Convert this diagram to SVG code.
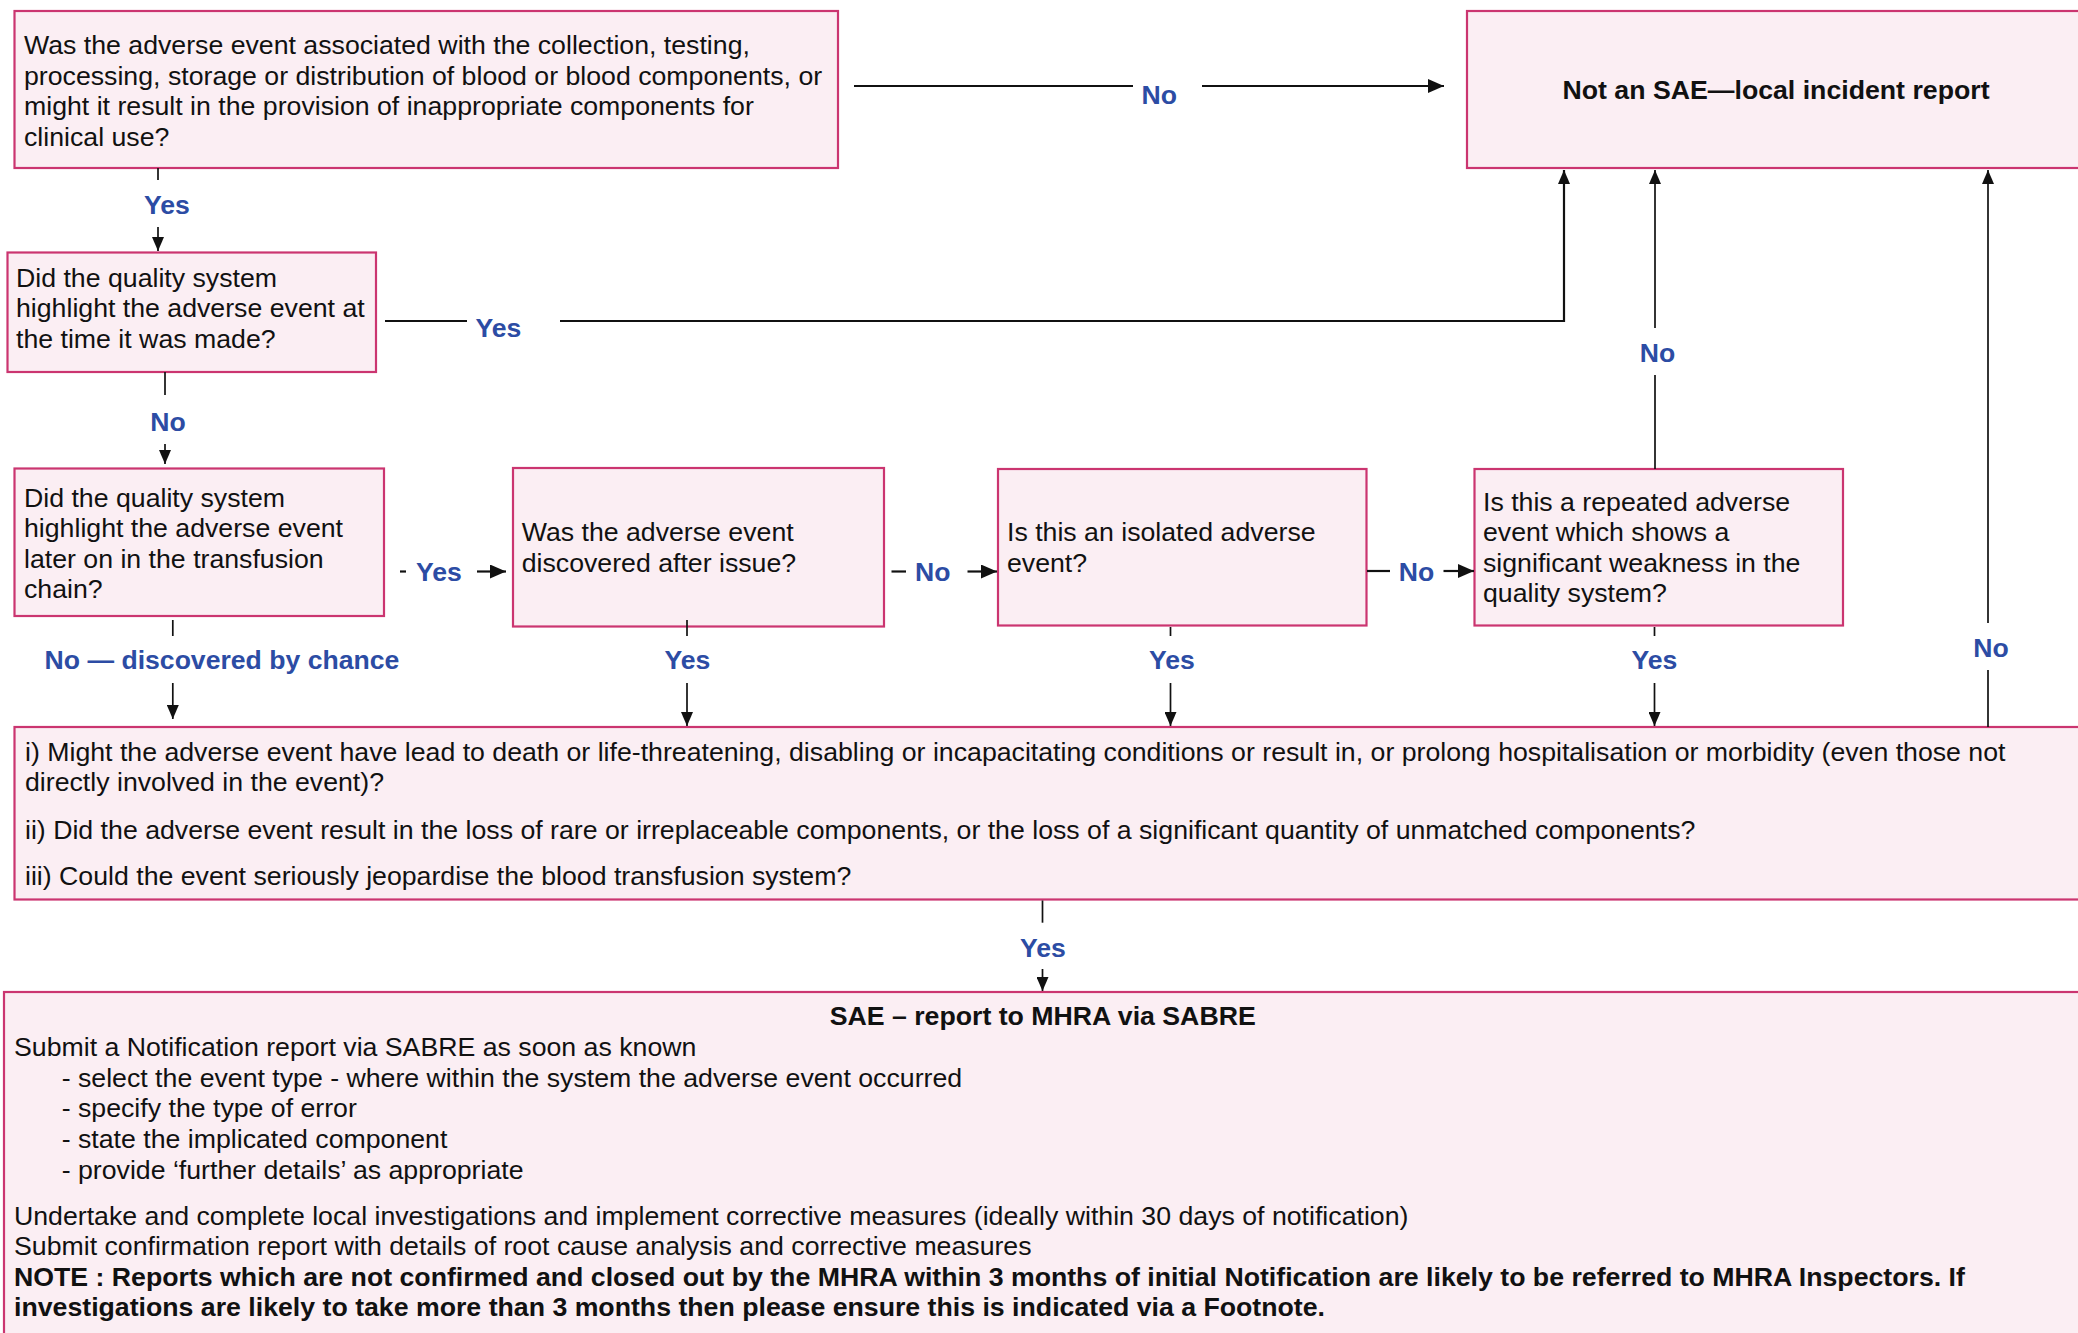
<svg xmlns="http://www.w3.org/2000/svg" width="2078" height="1333" viewBox="0 0 2078 1333">
<defs>
<style>
.box{fill:#FBEEF3;stroke:#CB3570;stroke-width:2.2}
.t{font-family:"Liberation Sans",Arial,Helvetica,sans-serif;font-size:26.7px;fill:#111}
.b{font-weight:bold}
.lbl{font-family:"Liberation Sans",Arial,Helvetica,sans-serif;font-size:26.6px;font-weight:bold;fill:#2C4CA4}
.ln{fill:none;stroke:#111;stroke-width:1.7}
.lh{fill:none;stroke:#111;stroke-width:2.2}
</style>
<marker id="ah" markerWidth="16" markerHeight="14" refX="16" refY="7" orient="auto" markerUnits="userSpaceOnUse">
<path d="M0,0 L16,7 L0,14 z" fill="#111"/>
</marker>
<marker id="ahs" markerWidth="14" markerHeight="12" refX="14" refY="6" orient="auto" markerUnits="userSpaceOnUse">
<path d="M0,0 L14,6 L0,12 z" fill="#111"/>
</marker>
</defs>
<rect width="2078" height="1333" fill="#fff"/>

<g id="q1">
<rect class="box" x="14.5" y="11" width="823.5" height="157"/>
<text class="t" x="24" y="54">Was the adverse event associated with the collection, testing,</text>
<text class="t" x="24" y="84.5">processing, storage or distribution of blood or blood components, or</text>
<text class="t" x="24" y="115">might it result in the provision of inappropriate components for</text>
<text class="t" x="24" y="145.5">clinical use?</text>
</g>

<g id="notsae">
<rect class="box" x="1467" y="11" width="700" height="157"/>
<text class="t b" x="1776" y="98.5" text-anchor="middle">Not an SAE—local incident report</text>
</g>

<g id="q2">
<rect class="box" x="7.5" y="252.5" width="368.5" height="119.5"/>
<text class="t" x="16" y="286.5">Did the quality system</text>
<text class="t" x="16" y="317">highlight the adverse event at</text>
<text class="t" x="16" y="347.5">the time it was made?</text>
</g>

<g id="q3">
<rect class="box" x="14.5" y="468.5" width="369.5" height="147.5"/>
<text class="t" x="24" y="506.5">Did the quality system</text>
<text class="t" x="24" y="537">highlight the adverse event</text>
<text class="t" x="24" y="567.5">later on in the transfusion</text>
<text class="t" x="24" y="598">chain?</text>
</g>

<g id="q4">
<rect class="box" x="513" y="468" width="371" height="158.5"/>
<text class="t" x="521.7" y="541">Was the adverse event</text>
<text class="t" x="521.7" y="571.5">discovered after issue?</text>
</g>

<g id="q5">
<rect class="box" x="998" y="469" width="368.5" height="156.5"/>
<text class="t" x="1007" y="541">Is this an isolated adverse</text>
<text class="t" x="1007" y="571.5">event?</text>
</g>

<g id="q6">
<rect class="box" x="1474.5" y="469" width="368.5" height="156.5"/>
<text class="t" x="1483" y="510.5">Is this a repeated adverse</text>
<text class="t" x="1483" y="541">event which shows a</text>
<text class="t" x="1483" y="571.5">significant weakness in the</text>
<text class="t" x="1483" y="602">quality system?</text>
</g>

<g id="q7">
<rect class="box" x="14.5" y="727" width="2100" height="172.5"/>
<text class="t" x="25" y="760.5">i) Might the adverse event have lead to death or life-threatening, disabling or incapacitating conditions or result in, or prolong hospitalisation or morbidity (even those not</text>
<text class="t" x="25" y="791">directly involved in the event)?</text>
<text class="t" x="25" y="839">ii) Did the adverse event result in the loss of rare or irreplaceable components, or the loss of a significant quantity of unmatched components?</text>
<text class="t" x="25" y="885">iii) Could the event seriously jeopardise the blood transfusion system?</text>
</g>

<g id="sae">
<rect class="box" x="4" y="992" width="2100" height="400"/>
<text class="t b" x="1042.7" y="1025" text-anchor="middle">SAE – report to MHRA via SABRE</text>
<text class="t" x="14" y="1056">Submit a Notification report via SABRE as soon as known</text>
<text class="t" x="61.7" y="1087">- select the event type - where within the system the adverse event occurred</text>
<text class="t" x="61.7" y="1117">- specify the type of error</text>
<text class="t" x="61.7" y="1148">- state the implicated component</text>
<text class="t" x="61.7" y="1179">- provide ‘further details’ as appropriate</text>
<text class="t" x="14" y="1224.5">Undertake and complete local investigations and implement corrective measures (ideally within 30 days of notification)</text>
<text class="t" x="14" y="1255">Submit confirmation report with details of root cause analysis and corrective measures</text>
<text class="t b" x="14" y="1286">NOTE : Reports which are not confirmed and closed out by the MHRA within 3 months of initial Notification are likely to be referred to MHRA Inspectors. If</text>
<text class="t b" x="14" y="1316">investigations are likely to take more than 3 months then please ensure this is indicated via a Footnote.</text>
</g>

<g id="connectors">
<!-- q1 No -> notsae -->
<line class="lh" x1="854" y1="86" x2="1133" y2="86"/>
<line class="lh" x1="1202" y1="86" x2="1444" y2="86" marker-end="url(#ah)"/>
<text class="lbl" x="1159.3" y="103.5" text-anchor="middle">No</text>

<!-- q1 Yes -> q2 -->
<line class="ln" x1="158" y1="168" x2="158" y2="180"/>
<text class="lbl" x="167" y="213.5" text-anchor="middle">Yes</text>
<line class="ln" x1="158" y1="227" x2="158" y2="251" marker-end="url(#ahs)"/>

<!-- q2 Yes -> notsae -->
<line class="lh" x1="385" y1="321" x2="467" y2="321"/>
<text class="lbl" x="475.5" y="337.2">Yes</text>
<polyline class="lh" points="560,321 1564,321 1564,170" marker-end="url(#ahs)"/>

<!-- q2 No -> q3 -->
<line class="ln" x1="165" y1="372" x2="165" y2="395"/>
<text class="lbl" x="168" y="430.5" text-anchor="middle">No</text>
<line class="ln" x1="165" y1="444" x2="165" y2="464" marker-end="url(#ahs)"/>

<!-- q3 Yes -> q4 -->
<line class="lh" x1="400" y1="571.5" x2="406" y2="571.5"/>
<text class="lbl" x="416" y="581">Yes</text>
<line class="lh" x1="477" y1="571.5" x2="506" y2="571.5" marker-end="url(#ah)"/>

<!-- q4 No -> q5 -->
<line class="lh" x1="891.5" y1="571.5" x2="906" y2="571.5"/>
<text class="lbl" x="915" y="581">No</text>
<line class="lh" x1="967.5" y1="571.5" x2="997" y2="571.5" marker-end="url(#ah)"/>

<!-- q5 No -> q6 -->
<line class="lh" x1="1367" y1="571" x2="1390" y2="571"/>
<text class="lbl" x="1398.8" y="580.5">No</text>
<line class="lh" x1="1443.5" y1="571" x2="1474" y2="571" marker-end="url(#ah)"/>

<!-- q6 No -> notsae -->
<line class="ln" x1="1655" y1="469" x2="1655" y2="375"/>
<text class="lbl" x="1657.5" y="362.2" text-anchor="middle">No</text>
<line class="ln" x1="1655" y1="328" x2="1655" y2="170" marker-end="url(#ahs)"/>

<!-- q7 No -> notsae -->
<line class="ln" x1="1988" y1="727" x2="1988" y2="670"/>
<text class="lbl" x="1991" y="656.5" text-anchor="middle">No</text>
<line class="ln" x1="1988" y1="623" x2="1988" y2="170" marker-end="url(#ahs)"/>

<!-- q3 No -> q7 -->
<line class="ln" x1="172.8" y1="620" x2="172.8" y2="636"/>
<text class="lbl" x="44.6" y="668.5">No — discovered by chance</text>
<line class="ln" x1="172.8" y1="683" x2="172.8" y2="719" marker-end="url(#ahs)"/>

<!-- q4 Yes -> q7 -->
<line class="ln" x1="687" y1="620" x2="687" y2="636"/>
<text class="lbl" x="687.5" y="668.5" text-anchor="middle">Yes</text>
<line class="ln" x1="687" y1="683" x2="687" y2="726" marker-end="url(#ahs)"/>

<!-- q5 Yes -> q7 -->
<line class="ln" x1="1170.5" y1="627" x2="1170.5" y2="636"/>
<text class="lbl" x="1172" y="668.5" text-anchor="middle">Yes</text>
<line class="ln" x1="1170.5" y1="683" x2="1170.5" y2="726" marker-end="url(#ahs)"/>

<!-- q6 Yes -> q7 -->
<line class="ln" x1="1654.5" y1="627" x2="1654.5" y2="636"/>
<text class="lbl" x="1654.5" y="668.5" text-anchor="middle">Yes</text>
<line class="ln" x1="1654.5" y1="683" x2="1654.5" y2="726" marker-end="url(#ahs)"/>

<!-- q7 Yes -> sae -->
<line class="ln" x1="1042.5" y1="900.5" x2="1042.5" y2="922.7"/>
<text class="lbl" x="1043" y="956.5" text-anchor="middle">Yes</text>
<line class="ln" x1="1042.5" y1="969" x2="1042.5" y2="991" marker-end="url(#ahs)"/>
</g>
</svg>
